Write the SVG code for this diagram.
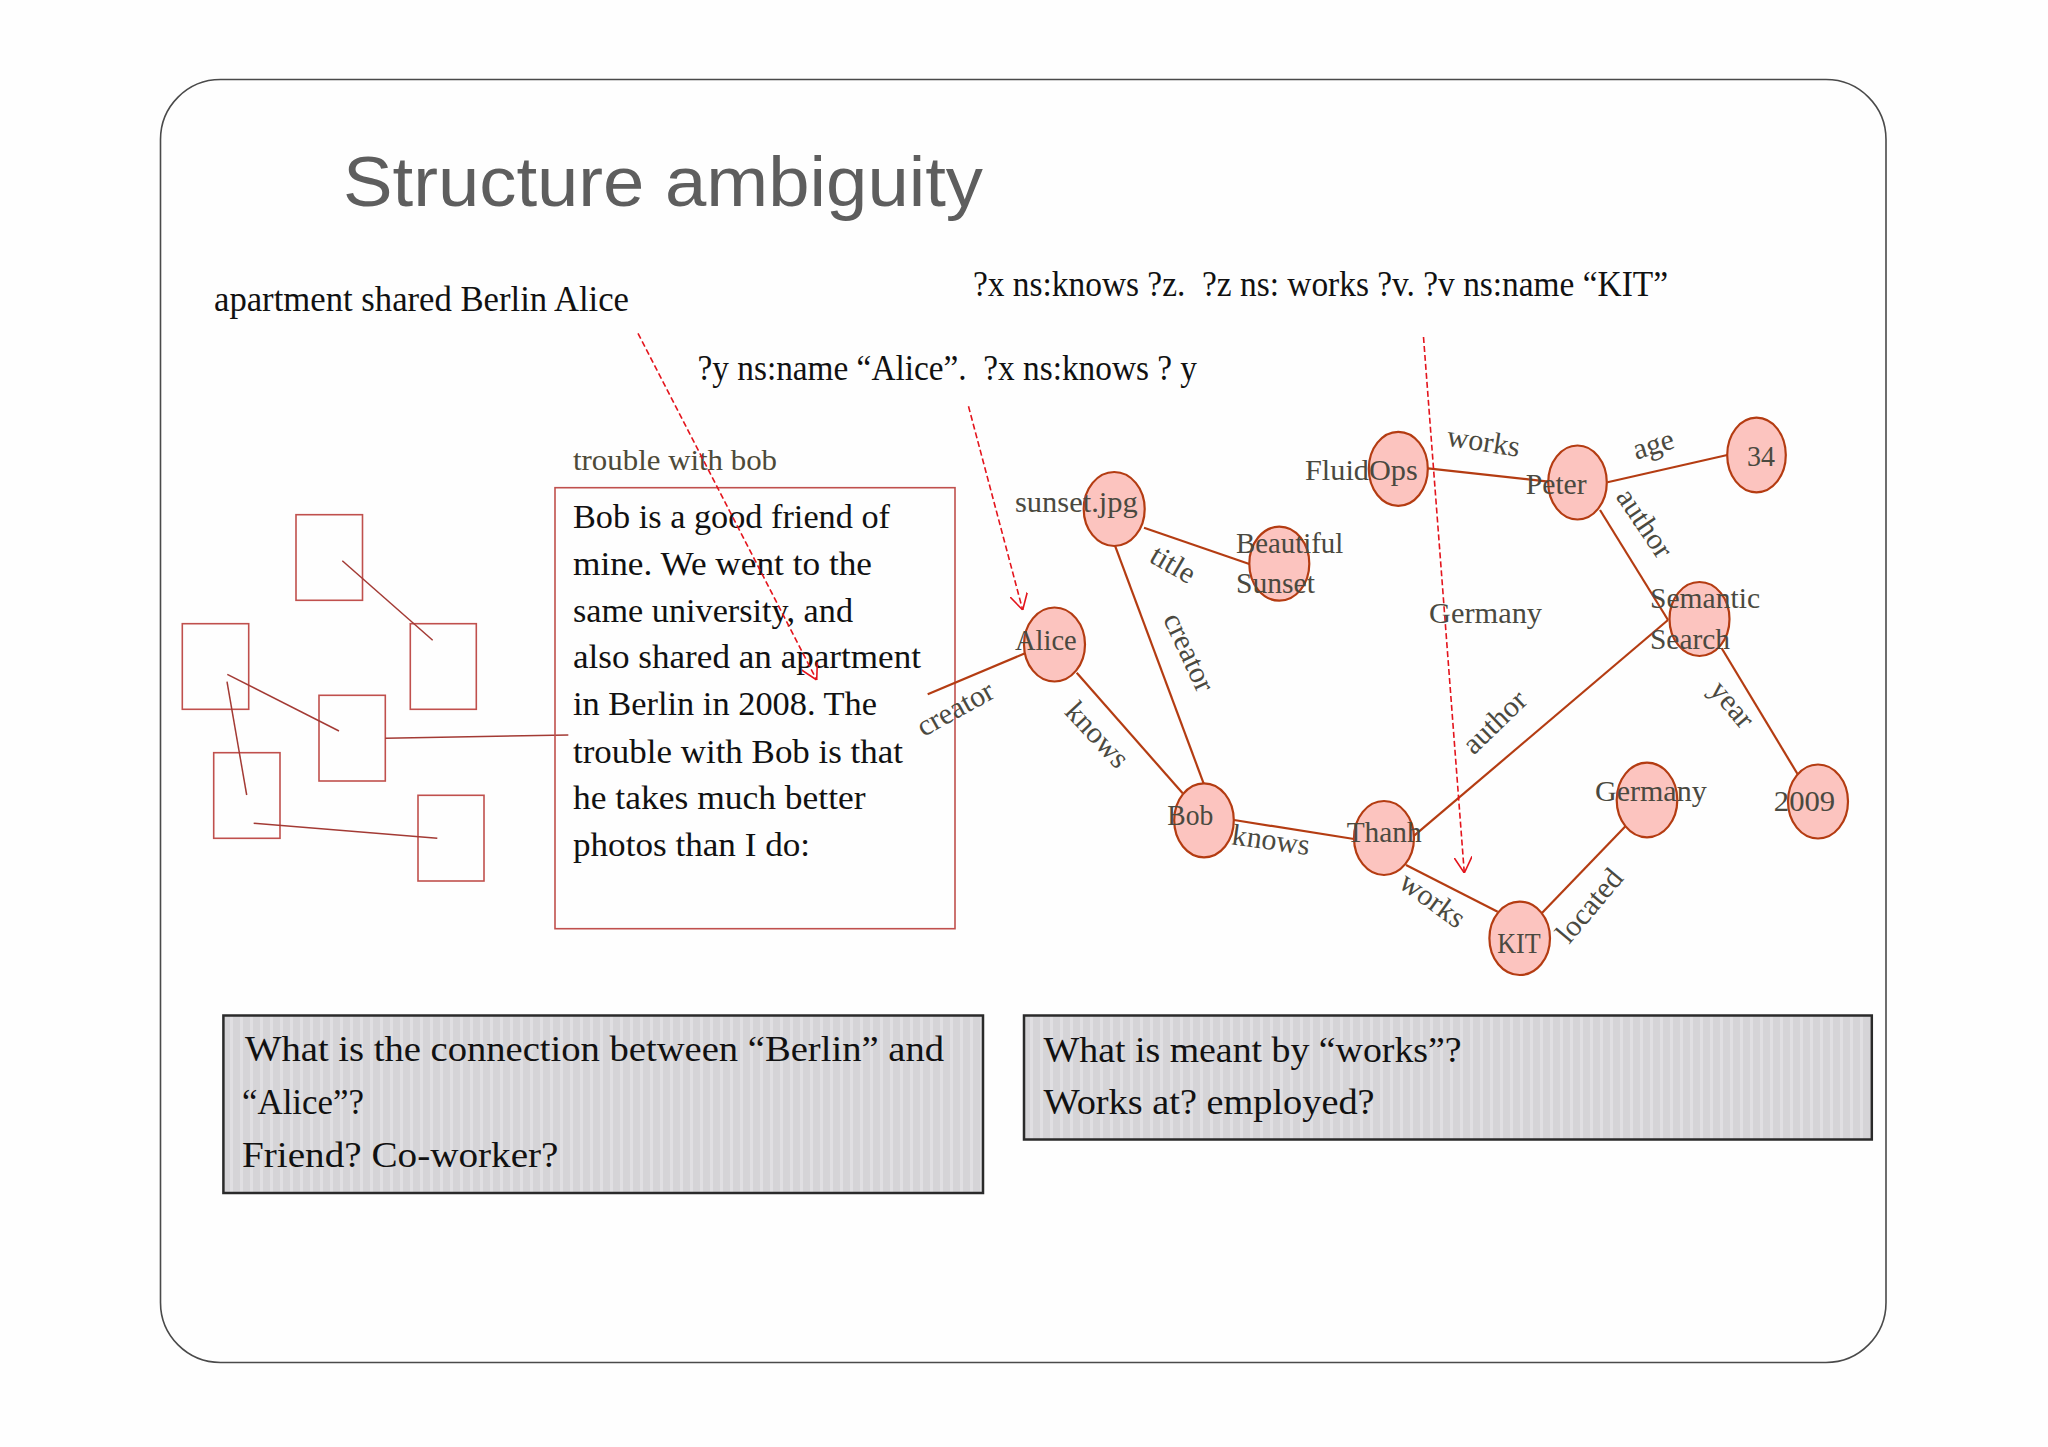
<svg xmlns="http://www.w3.org/2000/svg" width="2048" height="1447" viewBox="0 0 2048 1447">
<defs>
<style>
.serif{font-family:"Liberation Serif","DejaVu Serif",serif;}
.q{font-family:"Liberation Serif","DejaVu Serif",serif;font-size:35px;fill:#111;}
.body{font-family:"Liberation Serif","DejaVu Serif",serif;font-size:34px;fill:#111;}
.boxq{font-family:"Liberation Serif","DejaVu Serif",serif;font-size:35px;fill:#111;}
.nl{font-family:"Liberation Serif","DejaVu Serif",serif;font-size:30px;fill:#4a4940;}
.el{font-family:"Liberation Serif","DejaVu Serif",serif;font-size:30px;fill:#4a4940;text-anchor:middle;}
.node{fill:#fcc4bf;stroke:#b43c12;stroke-width:2.2;}
.edge{stroke:#b43c12;stroke-width:2.2;fill:none;}
.sq{fill:none;stroke:#c0504d;stroke-width:1.6;}
.sql{stroke:#a33a34;stroke-width:1.5;fill:none;}
.dash{stroke:#e3141c;stroke-width:1.6;stroke-dasharray:6 3;fill:none;marker-end:url(#open);}
.gbox{fill:url(#stripes);stroke:#2a2a2a;stroke-width:2.5;}
</style>
<marker id="open" viewBox="0 0 16 18" refX="16" refY="9" markerWidth="16" markerHeight="18" markerUnits="userSpaceOnUse" orient="auto">
<path d="M0,0 L16,9 L0,18" fill="none" stroke="#e3141c" stroke-width="1.6"/>
</marker>
<pattern id="stripes" width="10" height="10" patternUnits="userSpaceOnUse">
<rect width="10" height="10" fill="#d5d4d7"/>
<rect width="3" height="10" fill="#e0dfe2"/>
</pattern>
</defs>
<rect width="2048" height="1447" fill="#fefefe"/>
<rect id="frame" x="160.5" y="79.5" width="1725.5" height="1283" rx="60" ry="60" fill="#fefefe" stroke="#4a4a4a" stroke-width="1.6"/>
<g id="title"><text x="343" y="205.5" font-family="'Liberation Sans Narrow','Liberation Sans',Arial,sans-serif" font-size="70" fill="#5e5e5e" textLength="640" lengthAdjust="spacingAndGlyphs">Structure ambiguity</text></g>
<g id="queries">
<text class="q" x="214" y="310.5" textLength="415" lengthAdjust="spacingAndGlyphs">apartment shared Berlin Alice</text>
<text class="q" x="973" y="295.5" xml:space="preserve" textLength="695" lengthAdjust="spacingAndGlyphs">?x ns:knows ?z.  ?z ns: works ?v. ?v ns:name “KIT”</text>
<text class="q" x="697.5" y="379.5" xml:space="preserve" textLength="499.5" lengthAdjust="spacingAndGlyphs">?y ns:name “Alice”.  ?x ns:knows ? y</text>
</g>
<g id="small-boxes">
<rect class="sq" x="296" y="514.7" width="66.5" height="85.6"/>
<rect class="sq" x="410.3" y="623.7" width="66" height="85.6"/>
<rect class="sq" x="182.3" y="623.7" width="66.4" height="85.6"/>
<rect class="sq" x="319" y="695.3" width="66.3" height="85.7"/>
<rect class="sq" x="213.7" y="752.7" width="66.3" height="85.6"/>
<rect class="sq" x="418" y="795.3" width="66" height="85.7"/>
<line class="sql" x1="342.3" y1="560.7" x2="432.7" y2="640.3"/>
<line class="sql" x1="227.3" y1="674.3" x2="339" y2="731"/>
<line class="sql" x1="227" y1="681.7" x2="246.7" y2="795"/>
<line class="sql" x1="385.3" y1="738.3" x2="568.3" y2="735"/>
<line class="sql" x1="253.7" y1="823.3" x2="437.3" y2="838.3"/>
</g>
<g id="textbox">
<text x="573" y="470" font-family="'Liberation Serif','DejaVu Serif',serif" font-size="29" fill="#4d4a38" textLength="204" lengthAdjust="spacingAndGlyphs">trouble with bob</text>
<rect x="555" y="487.7" width="400" height="441" fill="none" stroke="#c0504d" stroke-width="1.6"/>
<text class="body" x="573" y="528.3" textLength="317" lengthAdjust="spacingAndGlyphs">Bob is a good friend of</text>
<text class="body" x="573" y="575" textLength="299" lengthAdjust="spacingAndGlyphs">mine. We went to the</text>
<text class="body" x="573" y="621.7" textLength="280" lengthAdjust="spacingAndGlyphs">same university, and</text>
<text class="body" x="573" y="668.3" textLength="348" lengthAdjust="spacingAndGlyphs">also shared an apartment</text>
<text class="body" x="573" y="715" textLength="304" lengthAdjust="spacingAndGlyphs">in Berlin in 2008. The</text>
<text class="body" x="573" y="762.8" textLength="330" lengthAdjust="spacingAndGlyphs">trouble with Bob is that</text>
<text class="body" x="573" y="809.4" textLength="292.6" lengthAdjust="spacingAndGlyphs">he takes much better</text>
<text class="body" x="573" y="855.6" textLength="237" lengthAdjust="spacingAndGlyphs">photos than I do:</text>
</g>
<g id="connectors">
<line class="edge" x1="1428" y1="468.3" x2="1548.5" y2="481.7"/>
<line class="edge" x1="1607.5" y1="482.3" x2="1727.3" y2="455"/>
<line class="edge" x1="1600" y1="510" x2="1668" y2="620"/>
<line class="edge" x1="1144" y1="527.7" x2="1249.3" y2="564"/>
<line class="edge" x1="1115" y1="545.7" x2="1203.6" y2="783.3"/>
<line class="edge" x1="1076.7" y1="672.7" x2="1182.7" y2="793.3"/>
<line class="edge" x1="927.7" y1="694.3" x2="1025" y2="653.3"/>
<line class="edge" x1="1234" y1="820" x2="1354" y2="839"/>
<line class="edge" x1="1406" y1="865" x2="1497.7" y2="911.7"/>
<line class="edge" x1="1541.7" y1="913.3" x2="1625.7" y2="826"/>
<line class="edge" x1="1413" y1="836.7" x2="1668" y2="620"/>
<line class="edge" x1="1721.7" y1="648.3" x2="1798" y2="774.8"/>
<path class="dash" d="M638,333.3 L816.7,680"/>
<path class="dash" d="M968.5,406.3 L1022.7,610"/>
<path class="dash" d="M1423.5,337 L1464.3,873"/>
</g>
<g id="edge-labels">
<text class="el" transform="translate(956,710) rotate(-29)" y="8">creator</text>
<text class="el" transform="translate(1096,736) rotate(47)" y="8">knows</text>
<text class="el" transform="translate(1187.5,653) rotate(65)" y="8">creator</text>
<text class="el" transform="translate(1172.3,565.7) rotate(30)" y="8">title</text>
<text class="el" transform="translate(1483.3,443.3) rotate(9)" y="8">works</text>
<text class="el" transform="translate(1654.3,448) rotate(-17)" y="6">age</text>
<text class="el" transform="translate(1643.3,524) rotate(56)" y="8">author</text>
<text class="el" transform="translate(1495.7,723.3) rotate(-44)" y="8">author</text>
<text class="el" transform="translate(1728.7,707.3) rotate(50)" y="5">year</text>
<text class="el" transform="translate(1270.7,841.7) rotate(8)" y="8">knows</text>
<text class="el" transform="translate(1431.7,901.3) rotate(36)" y="8">works</text>
<text class="el" transform="translate(1590.7,906.7) rotate(-50)" y="8">located</text>
</g>
<g id="node-sunset"><ellipse class="node" cx="1114.2" cy="509" rx="30.5" ry="37"/><text class="nl" x="1015" y="511.7" textLength="122.7" lengthAdjust="spacingAndGlyphs">sunset.jpg</text></g>
<g id="node-beautiful-sunset"><ellipse class="node" cx="1279.3" cy="563.7" rx="30" ry="37"/><text class="nl" x="1236" y="552.7" textLength="107.3" lengthAdjust="spacingAndGlyphs">Beautiful</text><text class="nl" x="1236" y="593.3" textLength="79" lengthAdjust="spacingAndGlyphs">Sunset</text></g>
<g id="node-fluidops"><ellipse class="node" cx="1398.3" cy="468.8" rx="29.5" ry="37"/><text class="nl" x="1305" y="480" textLength="112.7" lengthAdjust="spacingAndGlyphs">FluidOps</text></g>
<g id="node-peter"><ellipse class="node" cx="1577.5" cy="482.5" rx="29.3" ry="37"/><text class="nl" x="1525.7" y="494.3" textLength="61" lengthAdjust="spacingAndGlyphs">Peter</text></g>
<g id="node-34"><ellipse class="node" cx="1756.5" cy="455" rx="29.3" ry="37.3"/><text class="nl" x="1747" y="465.7" textLength="28" lengthAdjust="spacingAndGlyphs">34</text></g>
<g id="node-germany-mid"><text class="nl" x="1429" y="622.7" textLength="113" lengthAdjust="spacingAndGlyphs">Germany</text></g>
<g id="node-semantic-search"><ellipse class="node" cx="1699.5" cy="619" rx="30" ry="37"/><text class="nl" x="1650" y="608.3" textLength="110" lengthAdjust="spacingAndGlyphs">Semantic</text><text class="nl" x="1650" y="649.3" textLength="80" lengthAdjust="spacingAndGlyphs">Search</text></g>
<g id="node-alice"><ellipse class="node" cx="1054.5" cy="644.5" rx="30.5" ry="37"/><text class="nl" x="1015" y="650" textLength="61.7" lengthAdjust="spacingAndGlyphs">Alice</text></g>
<g id="node-bob"><ellipse class="node" cx="1204" cy="820.3" rx="29.8" ry="37"/><text class="nl" x="1167.3" y="825" textLength="46" lengthAdjust="spacingAndGlyphs">Bob</text></g>
<g id="node-thanh"><ellipse class="node" cx="1384" cy="838" rx="30" ry="37"/><text class="nl" x="1346.7" y="842.3" textLength="75" lengthAdjust="spacingAndGlyphs">Thanh</text></g>
<g id="node-kit"><ellipse class="node" cx="1519.7" cy="938.3" rx="30.3" ry="36.7"/><text class="nl" x="1497.3" y="952.7" textLength="43.4" lengthAdjust="spacingAndGlyphs">KIT</text></g>
<g id="node-germany"><ellipse class="node" cx="1647" cy="800" rx="30.3" ry="37.3"/><text class="nl" x="1595" y="800.7" textLength="111.7" lengthAdjust="spacingAndGlyphs">Germany</text></g>
<g id="node-2009"><ellipse class="node" cx="1818" cy="801.5" rx="30" ry="37"/><text class="nl" x="1773.8" y="810.8" textLength="61.4" lengthAdjust="spacingAndGlyphs">2009</text></g>
<g id="question-left">
<rect class="gbox" x="223.4" y="1015.5" width="759.6" height="177.5"/>
<text class="boxq" x="245" y="1061" textLength="699" lengthAdjust="spacingAndGlyphs">What is the connection between “Berlin” and</text>
<text class="boxq" x="242" y="1113.5" textLength="122" lengthAdjust="spacingAndGlyphs">“Alice”?</text>
<text class="boxq" x="242" y="1167" textLength="316.5" lengthAdjust="spacingAndGlyphs">Friend? Co-worker?</text>
</g>
<g id="question-right">
<rect class="gbox" x="1024" y="1015.5" width="847.8" height="124"/>
<text class="boxq" x="1043.6" y="1062" textLength="418" lengthAdjust="spacingAndGlyphs">What is meant by “works”?</text>
<text class="boxq" x="1043.6" y="1114" textLength="331" lengthAdjust="spacingAndGlyphs">Works at? employed?</text>
</g>
</svg>
